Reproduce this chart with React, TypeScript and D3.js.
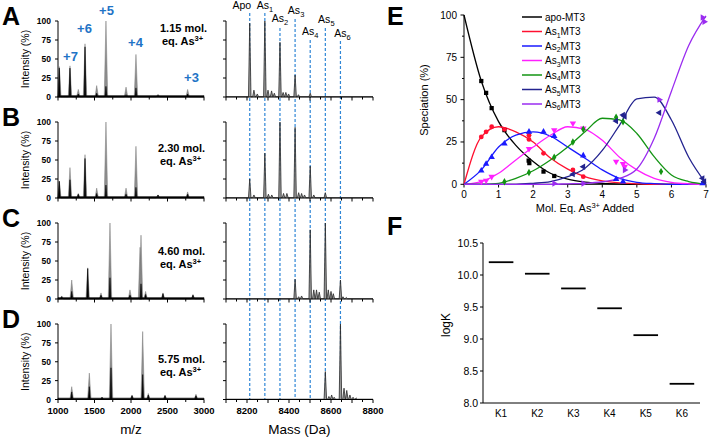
import React from 'react';
import * as d3 from 'd3';

const FONT = "'Liberation Sans', Arial, Helvetica, sans-serif";

// ---------- MS panels data ----------
const panelLetters = ['A', 'B', 'C', 'D'];
const molEqText = ['1.15', '2.30', '4.60', '5.75'];
const mzTickLabels = [1000, 1500, 2000, 2500, 3000];
const mzMinorTicks = [1000, 1250, 1500, 1750, 2000, 2250, 2500, 2750, 3000];
const massTickLabels = [8200, 8400, 8600, 8800];
const massMinorTicks = [8100, 8150, 8200, 8250, 8300, 8350, 8400, 8450, 8500, 8550, 8600, 8650, 8700, 8750, 8800];
const intensityTicks = [0, 25, 50, 75, 100];

const chargeStates = ['+7', '+6', '+5', '+4', '+3'];
const chargeMz = [1171, 1363, 1664, 2062, 2829];

// [m/z, intensity %]
const grayA = [[1018, 40], [1164, 41], [1278, 10], [1370, 70], [1530, 15], [1657, 100], [1932, 13], [2068, 56], [2370, 3], [2776, 10]];
const blackA = [[1018, 38], [1164, 38], [1278, 4], [1370, 66], [1530, 5], [1657, 14], [1932, 3], [2068, 12], [2370, 3], [2776, 4]];
const grayB = [[1018, 22], [1164, 40], [1278, 6], [1370, 57], [1530, 13], [1657, 100], [1932, 13], [2068, 68], [2370, 4], [2776, 8]];
const blackB = [[1018, 22], [1164, 24], [1278, 5], [1370, 52], [1530, 6], [1657, 17], [1932, 5], [2068, 14], [2370, 4], [2776, 5]];
const grayC = [[1051, 4], [1188, 25], [1407, 41], [1589, 8], [1712, 100], [1986, 12], [2124, 68], [2137, 84], [2200, 10], [2438, 8], [2849, 6]];
const blackC = [[1051, 3], [1188, 10], [1407, 40], [1589, 5], [1712, 28], [1986, 5], [2137, 20], [2200, 6], [2438, 7], [2849, 5]];
const grayD = [[1188, 17], [1429, 35], [1603, 3], [1726, 100], [2014, 6], [2160, 90], [2237, 8], [2466, 6], [2890, 7]];
const blackD = [[1188, 10], [1429, 17], [1603, 3], [1726, 42], [2014, 5], [2160, 33], [2237, 6], [2466, 5], [2890, 5]];

// deconvoluted [mass Da, intensity %]
const decoA = [[8213, 97], [8233, 9], [8249, 4], [8285, 100], [8300, 9], [8317, 8], [8330, 5], [8357, 72], [8372, 6], [8385, 6], [8398, 4], [8429, 29], [8445, 3], [8501, 5]];
const decoB = [[8213, 25], [8233, 4], [8285, 59], [8302, 5], [8318, 4], [8357, 100], [8374, 6], [8390, 6], [8429, 93], [8446, 7], [8460, 6], [8474, 4], [8501, 42], [8518, 4], [8573, 7]];
const decoC = [[8429, 26], [8446, 3], [8460, 4], [8501, 91], [8518, 12], [8531, 12], [8544, 9], [8573, 100], [8587, 12], [8600, 10], [8611, 7], [8645, 25], [8657, 3], [8673, 2]];
const decoD = [[8573, 37], [8590, 4], [8603, 6], [8615, 3], [8645, 100], [8662, 15], [8675, 12], [8690, 6], [8705, 3], [8720, 2]];

const speciesBase = ['Apo', 'As', 'As', 'As', 'As', 'As', 'As'];
const speciesSub = ['', '1', '2', '3', '4', '5', '6'];
const speciesMass = [8213, 8285, 8357, 8429, 8501, 8573, 8645];

// ---------- Panel E data ----------
const eqGrid = [0, 0.5, 1, 1.5, 2, 2.5, 3, 3.5, 4, 4.5, 5, 5.5, 6, 6.5, 7];
const fitApo = [100, 61, 37, 23, 13.5, 6.5, 3, 1.3, 0.5, 0.2, 0, 0, 0, 0, 0];
const fitAs1 = [0, 28, 34, 31, 25, 15.5, 9, 4.5, 2, 0.8, 0.3, 0, 0, 0, 0];
const fitAs2 = [0, 8.5, 22, 29, 31, 28.5, 22, 15.4, 8.5, 3.5, 1.2, 0.4, 0, 0, 0];
const fitAs3 = [0, 1.6, 6.5, 14.4, 22, 29, 34, 32.5, 26, 16, 8.5, 3.5, 1.2, 0.3, 0];
const fitAs4 = [0, 0, 0.6, 3.5, 8, 14.4, 22, 31, 39, 38, 30, 16.3, 5.5, 1.6, 0.2];
const fitAs5 = [0, 0, 0, 0, 0.6, 1.6, 4.5, 9.5, 20, 35, 50.5, 51.5, 38, 16, 0.5];
const fitAs6 = [0, 0, 0, 0, 0, 0, 0.3, 0.6, 1.5, 3.5, 9, 27, 55, 82, 99.5];

const ptsApo = [[0.5, 61], [0.64, 54], [0.8, 45], [1.17, 32], [1.87, 14], [1.89, 12.5], [2.3, 7.5], [2.61, 4.9]];
const ptsAs1 = [[0.5, 28], [0.64, 31], [0.8, 34], [1.17, 32.5], [1.88, 29], [1.88, 26.5], [2.3, 18.3], [3.15, 8.5], [3.45, 4.5]];
const ptsAs2 = [[0.5, 8], [0.64, 12], [0.8, 16], [1.17, 24], [1.88, 31], [2.3, 31], [2.61, 28.5], [3.45, 17], [4.4, 3], [4.6, 1.5], [6.9, 0.5]];
const ptsAs3 = [[0.5, 1.6], [0.64, 2.2], [0.8, 4.5], [1.88, 21], [2.61, 32], [3.15, 36], [3.45, 33], [4.4, 13.4], [4.6, 12], [4.65, 10.4]];
const ptsAs4 = [[1.17, 1.5], [1.88, 7], [2.61, 16], [3.15, 25], [3.45, 32.5], [4.4, 39.6], [4.6, 37], [5.7, 7.5]];
const ptsAs5 = [[3.15, 6], [3.45, 10.4], [4.4, 37.4], [4.6, 41], [4.65, 40], [5.65, 42.3], [6.9, 3.5], [6.95, 1.6]];
const ptsAs6 = [[2.61, 0.5], [3.45, 0.5], [4.65, 8.5], [5.65, 50], [6.9, 98.5], [6.95, 96]];

const eqTicks = [0, 1, 2, 3, 4, 5, 6, 7];
const specTicks = [0, 25, 50, 75, 100];
const specMinor = [0, 12.5, 25, 37.5, 50, 62.5, 75, 87.5, 100];
const legendSub = ['', '1', '2', '3', '4', '5', '6'];

// ---------- Panel F data ----------
const kLabels = ['K1', 'K2', 'K3', 'K4', 'K5', 'K6'];
const logK = [10.2, 10.02, 9.79, 9.48, 9.06, 8.3];
const logKTicks = [8.0, 8.5, 9.0, 9.5, 10.0, 10.5];

// ---------- styles / layout ----------
const speciesColors = ['#000000', '#ff1030', '#1a1aff', '#ff20ff', '#139413', '#23238f', '#9a2cf0'];
const markerTypes = ['square', 'circle', 'up', 'down', 'diamond', 'left', 'right'];
const BLUE = '#2f86d6';
const LABEL_BLUE = '#1f74c6';
const rowTop = [21, 122, 223, 324];
const rowBottom = [97, 198, 299, 399.5];
const molBase = [[160, 32, 45], [158, 152, 165], [158, 255, 268], [158, 363, 376]];
const chargeBaseline = [61, 33, 15, 47, 82];
const speciesLabelBaseline = [9, 9, 22, 14, 35, 23, 37];
const speciesLabelDx = [-8, 0, 0, 1, 0, 1, 2];
const speciesLineStart = [13, 13, 28, 19, 40, 28, 41];

function spectrumPoints(peaks: number[][], hw: number, base: number, lo: number, hi: number) {
  const s = [...peaks].sort((a, b) => a[0] - b[0]);
  const pts: number[][] = [[lo, base]];
  s.forEach(([p, h]) => {
    pts.push([p - hw, base], [p, h], [p + hw, base]);
  });
  pts.push([hi, base]);
  return pts;
}

function Marker({ type, x, y, color }: { type: string; x: number; y: number; color: string }) {
  const size = 18;
  let sym: any = d3.symbolSquare;
  let rot = 0;
  if (type === 'circle') sym = d3.symbolCircle;
  if (type === 'diamond') sym = d3.symbolDiamond;
  if (type === 'up') { sym = d3.symbolTriangle; rot = 0; }
  if (type === 'down') { sym = d3.symbolTriangle; rot = 180; }
  if (type === 'left') { sym = d3.symbolTriangle; rot = -90; }
  if (type === 'right') { sym = d3.symbolTriangle; rot = 90; }
  const p = d3.symbol().type(sym).size(type === 'diamond' ? 16 : size)();
  return <path d={p || ''} transform={`translate(${x},${y}) rotate(${rot})`} fill={color} />;
}

export default function App() {
  const xMz = d3.scaleLinear().domain([1000, 3000]).range([58, 204]);
  const xMass = d3.scaleLinear().domain([8100, 8800]).range([226, 373]);
  const grays = [grayA, grayB, grayC, grayD];
  const blacks = [blackA, blackB, blackC, blackD];
  const decos = [decoA, decoB, decoC, decoD];

  // E scales
  const xE = d3.scaleLinear().domain([0, 7]).range([464, 706]);
  const yE = d3.scaleLinear().domain([0, 100]).range([184.3, 15]);
  const fits = [fitApo, fitAs1, fitAs2, fitAs3, fitAs4, fitAs5, fitAs6];
  const pts = [ptsApo, ptsAs1, ptsAs2, ptsAs3, ptsAs4, ptsAs5, ptsAs6];
  const fitLine = d3.line<number>()
    .x((_, i) => xE(eqGrid[i]))
    .y((d) => yE(d))
    .curve(d3.curveMonotoneX);

  // F scales
  const xF = d3.scaleBand().domain(kLabels).range([483, 700]);
  const yF = d3.scaleLinear().domain([8.0, 10.5]).range([403, 243]);

  const tickStyle = { fontFamily: FONT, fontSize: 8.5, fontWeight: 700 as const, fill: '#000' };

  return (
    <svg width={709} height={439} style={{ position: 'absolute', left: 0, top: 0, background: '#fff' }} fontFamily={FONT}>
      <rect x={0} y={0} width={709} height={439} fill="#fff" />

      {/* blue dashed species lines */}
      {speciesMass.map((m, i) => (
        <line key={'dl' + i} x1={xMass(m)} x2={xMass(m)} y1={speciesLineStart[i]} y2={rowBottom[3]}
          stroke={BLUE} strokeWidth={1.2} strokeDasharray="3,2" />
      ))}
      {speciesMass.map((m, i) => (
        <text key={'sl' + i} x={xMass(m) + speciesLabelDx[i]} y={speciesLabelBaseline[i]} fontSize={10.5}
          textAnchor="middle" fill="#000">
          <tspan>{speciesBase[i]}</tspan>
          {speciesSub[i] && <tspan dy={2.5} fontSize={7.5}>{speciesSub[i]}</tspan>}
        </text>
      ))}

      {panelLetters.map((L, r) => {
        const y = d3.scaleLinear().domain([0, 100]).range([rowBottom[r], rowTop[r]]);
        const gArea = d3.area<number[]>().x((d) => xMz(d[0])).y0(y(0)).y1((d) => y(d[1]));
        const grayPts = spectrumPoints(grays[r], 24, 0, 1000, 3000);
        const blackPts = spectrumPoints(blacks[r], 12, 1.8, 1000, 3000);
        const bArea = d3.area<number[]>().x((d) => xMz(d[0])).y0(y(0)).y1((d) => y(d[1]));
        const decoPts = spectrumPoints(decos[r], 6, 0.4, 8100, 8800);
        const dArea = d3.area<number[]>().x((d) => xMass(d[0])).y0(y(0)).y1((d) => y(d[1]));
        const dLine = d3.line<number[]>().x((d) => xMass(d[0])).y((d) => y(d[1]));
        const midY = (rowTop[r] + rowBottom[r]) / 2;
        return (
          <g key={'row' + r}>
            <text x={2} y={rowTop[r] + 4} fontSize={25} fontWeight={700}>{L}</text>
            <text transform={`translate(29,${midY}) rotate(-90)`} textAnchor="middle" fontSize={10.5}>Intensity (%)</text>
            {/* left spectrum */}
            <path d={gArea(grayPts) || ''} fill="#8d8d8d" stroke="#7a7a7a" strokeWidth={0.5} />
            <path d={bArea(blackPts) || ''} fill="#000" stroke="#000" strokeWidth={0.6} />
            {/* left axes */}
            <line x1={58} x2={58} y1={rowTop[r]} y2={rowBottom[r]} stroke="#000" strokeWidth={1} />
            <line x1={58} x2={204} y1={rowBottom[r]} y2={rowBottom[r]} stroke="#000" strokeWidth={1.2} />
            {intensityTicks.map((t) => (
              <g key={'yt' + t}>
                <line x1={55} x2={58} y1={y(t)} y2={y(t)} stroke="#000" />
                <text x={51} y={y(t) + 3} textAnchor="end" {...tickStyle}>{t}</text>
              </g>
            ))}
            {mzMinorTicks.map((t) => (
              <line key={'xt' + t} x1={xMz(t)} x2={xMz(t)} y1={rowBottom[r]} y2={rowBottom[r] + (t % 500 === 0 ? 3.5 : 2.5)} stroke="#000" />
            ))}
            <text x={molBase[r][0]} y={molBase[r][1]} fontSize={11} fontWeight={700}>{molEqText[r]} mol.</text>
            <text x={molBase[r][0] + 2} y={molBase[r][2]} fontSize={11} fontWeight={700}>
              eq. As<tspan dy={-4} fontSize={7.5}>3+</tspan>
            </text>
            {/* right spectrum */}
            <path d={dArea(decoPts) || ''} fill="#9a9a9a" />
            <path d={dLine(decoPts) || ''} fill="none" stroke="#2a2a2a" strokeWidth={0.8} />
            <line x1={226} x2={226} y1={rowTop[r]} y2={rowBottom[r]} stroke="#000" strokeWidth={1} />
            <line x1={226} x2={373} y1={rowBottom[r]} y2={rowBottom[r]} stroke="#000" strokeWidth={1.2} />
            {intensityTicks.map((t) => (
              <line key={'ryt' + t} x1={223} x2={226} y1={y(t)} y2={y(t)} stroke="#000" />
            ))}
            {massMinorTicks.map((t) => (
              <line key={'rxt' + t} x1={xMass(t)} x2={xMass(t)} y1={rowBottom[r]} y2={rowBottom[r] + (t % 100 === 0 ? 3.5 : 2.5)} stroke="#000" />
            ))}
          </g>
        );
      })}

      {/* charge state labels (panel A) */}
      {chargeStates.map((c, i) => (
        <text key={'cs' + i} x={xMz(chargeMz[i])} y={chargeBaseline[i]} textAnchor="middle" fontSize={13}
          fontWeight={700} fill={LABEL_BLUE}>{c}</text>
      ))}

      {/* bottom tick labels & titles */}
      {mzTickLabels.map((t) => (
        <text key={'mzl' + t} x={xMz(t)} y={414} textAnchor="middle" fontSize={9.5} fontWeight={700}>{t}</text>
      ))}
      {massTickLabels.map((t) => (
        <text key={'ml' + t} x={xMass(t)} y={414} textAnchor="middle" fontSize={9.5} fontWeight={700}>{t}</text>
      ))}
      <text x={xMz(2000)} y={434} textAnchor="middle" fontSize={13.5}>m/z</text>
      <text x={xMass(8450)} y={434} textAnchor="middle" fontSize={13.5}>Mass (Da)</text>

      {/* ---------- Panel E ---------- */}
      <text x={387} y={25} fontSize={25} fontWeight={700}>E</text>
      <line x1={464} x2={464} y1={15} y2={184.3} stroke="#000" />
      <line x1={464} x2={706} y1={184.3} y2={184.3} stroke="#000" />
      {specMinor.map((t) => (
        <line key={'emy' + t} x1={t % 25 === 0 ? 460.5 : 462} x2={464} y1={yE(t)} y2={yE(t)} stroke="#000" />
      ))}
      {specTicks.map((t) => (
        <text key={'ey' + t} x={457} y={yE(t) + 3.5} textAnchor="end" fontSize={10}>{t}</text>
      ))}
      {eqTicks.map((t) => (
        <g key={'ex' + t}>
          <line x1={xE(t)} x2={xE(t)} y1={184.3} y2={187.5} stroke="#000" />
          <text x={xE(t)} y={197.5} textAnchor="middle" fontSize={10}>{t}</text>
        </g>
      ))}
      <text transform={`translate(428,100) rotate(-90)`} textAnchor="middle" fontSize={11}>Speciation (%)</text>
      <text x={xE(3.5)} y={212} textAnchor="middle" fontSize={11}>
        Mol. Eq. As<tspan dy={-4} fontSize={7.5}>3+</tspan><tspan dy={4}> Added</tspan>
      </text>
      {fits.map((f, i) => (
        <path key={'fit' + i} d={fitLine(f) || ''} fill="none" stroke={speciesColors[i]} strokeWidth={1.3} />
      ))}
      {pts.map((arr, i) =>
        arr.map((p, j) => (
          <Marker key={'pt' + i + '-' + j} type={markerTypes[i]} x={xE(p[0])} y={yE(p[1])} color={speciesColors[i]} />
        ))
      )}
      {legendSub.map((s, i) => {
        const ly = 17 + i * 14.5;
        return (
          <g key={'leg' + i}>
            <line x1={522} x2={542} y1={ly} y2={ly} stroke={speciesColors[i]} strokeWidth={1.5} />
            <text x={545} y={ly + 3.5} fontSize={10}>
              {s === '' ? 'apo-MT3' : (
                <>
                  <tspan>As</tspan><tspan dy={2.5} fontSize={7}>{s}</tspan><tspan dy={-2.5}>MT3</tspan>
                </>
              )}
            </text>
          </g>
        );
      })}

      {/* ---------- Panel F ---------- */}
      <text x={387} y={235} fontSize={25} fontWeight={700}>F</text>
      <line x1={483} x2={483} y1={243} y2={403} stroke="#000" />
      <line x1={483} x2={700} y1={403} y2={403} stroke="#000" />
      {logKTicks.map((t) => (
        <g key={'fy' + t}>
          <line x1={480} x2={483} y1={yF(t)} y2={yF(t)} stroke="#000" />
          <text x={478} y={yF(t) + 3.5} textAnchor="end" fontSize={10.5}>{t.toFixed(1)}</text>
        </g>
      ))}
      {kLabels.map((k, i) => {
        const cx = (xF(k) || 0) + xF.bandwidth() / 2;
        const hw = xF.bandwidth() * 0.34;
        return (
          <g key={'fk' + k}>
            <line x1={cx - hw} x2={cx + hw} y1={yF(logK[i])} y2={yF(logK[i])} stroke="#000" strokeWidth={1.8} />
            <text x={cx} y={417} textAnchor="middle" fontSize={10}>{k}</text>
          </g>
        );
      })}
      <text transform={`translate(450,325) rotate(-90)`} textAnchor="middle" fontSize={12}>logK</text>
    </svg>
  );
}
